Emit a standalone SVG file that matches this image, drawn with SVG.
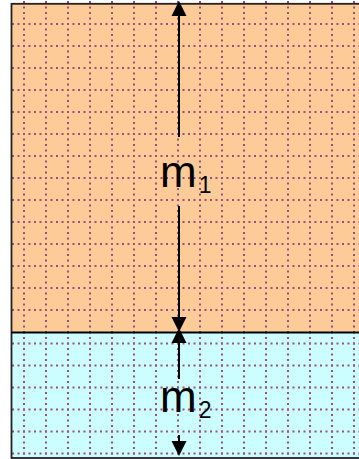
<svg xmlns="http://www.w3.org/2000/svg" width="359" height="459" viewBox="0 0 359 459">
  <style>
    .grid { fill: none; stroke: #98507f; stroke-width: 2; stroke-dasharray: 2 3.5; }
    .border { fill: none; stroke: #222; stroke-width: 1.8; }
    .arrow { fill: none; stroke: #000; stroke-width: 2; marker-end: url(#head); }
    .label { font-family: "Liberation Sans", Arial, sans-serif; fill: #000; }
    .sub { font-size: 23px; }
  </style>
  <defs>
    <marker id="head" markerUnits="userSpaceOnUse" markerWidth="16" markerHeight="16" refX="0" refY="7.5" orient="auto" overflow="visible">
      <path d="M0,0 L15,7.5 L0,15 Z" fill="#000"/>
    </marker>
  </defs>

  <g id="region-m1">
    <rect x="11.5" y="3.8" width="360" height="328.7" fill="#fdcb97"/>
    <path class="grid" d="M24,1 V332 M46,1 V332 M68,1 V332 M90,1 V332 M112,1 V332 M134,1 V332 M156,1 V332 M178,1 V332 M200,1 V332 M222,1 V332 M244,1 V332 M266,1 V332 M288,1 V332 M310,1 V332 M332,1 V332 M354,1 V332"/>
    <path class="grid" d="M12,24 H359 M12,46 H359 M12,68 H359 M12,90 H359 M12,112 H359 M12,134 H359 M12,156 H359 M12,178 H359 M12,200 H359 M12,222 H359 M12,244 H359 M12,266 H359 M12,288 H359 M12,310 H359"/>
  </g>

  <g id="region-m2">
    <rect x="11.5" y="332.5" width="360" height="125.5" fill="#ccfeff"/>
    <path class="grid" d="M24,331.5 V458 M46,331.5 V458 M68,331.5 V458 M90,331.5 V458 M112,331.5 V458 M134,331.5 V458 M156,331.5 V458 M178,331.5 V458 M200,331.5 V458 M222,331.5 V458 M244,331.5 V458 M266,331.5 V458 M288,331.5 V458 M310,331.5 V458 M332,331.5 V458 M354,331.5 V458"/>
    <path class="grid" d="M12,343.5 H359 M12,365.5 H359 M12,387.5 H359 M12,409.5 H359 M12,431.5 H359 M12,453.5 H359"/>
  </g>

  <g id="frame">
    <rect class="border" x="11.5" y="3.8" width="360" height="454.2"/>
    <line x1="11" y1="332.5" x2="359" y2="332.5" stroke="#000" stroke-width="1.8"/>
  </g>

  <g id="connectors">
    <path class="arrow" d="M179,137 V16"/>
    <path class="arrow" d="M179,206 V317"/>
    <path class="arrow" d="M179,379 V343"/>
    <path class="arrow" d="M179,435 V441"/>
  </g>

  <g id="label-m1">
    <text class="label" x="160" y="186.7" font-size="44">m<tspan class="sub" dx="2" dy="6.6">1</tspan></text>
  </g>
  <g id="label-m2">
    <text class="label" x="160" y="412.3" font-size="44">m<tspan class="sub" dx="2" dy="6">2</tspan></text>
  </g>
</svg>
